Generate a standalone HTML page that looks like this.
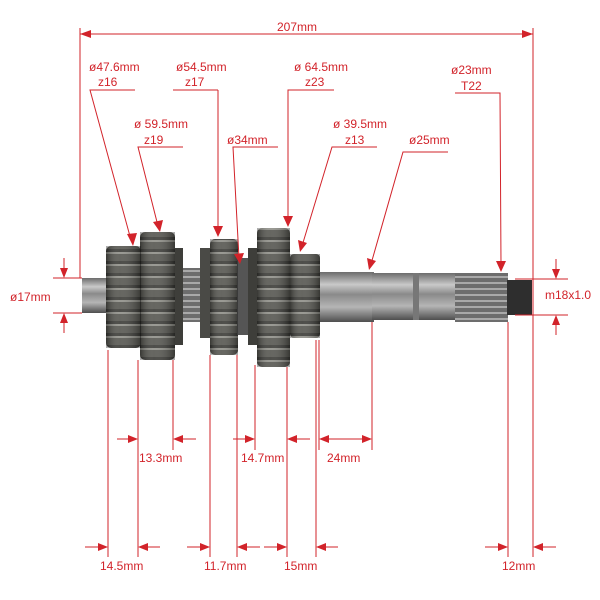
<!DOCTYPE html>
<html><head><meta charset="utf-8"><style>
html,body{margin:0;padding:0;background:#fff;width:600px;height:600px;overflow:hidden}
svg{display:block}
text{font-family:"Liberation Sans",sans-serif;font-size:12px;fill:#d2232a}
</style></head><body>
<svg width="600" height="600" viewBox="0 0 600 600">
<defs>
<linearGradient id="sh" x1="0" y1="0" x2="0" y2="1">
<stop offset="0" stop-color="#6c6c6c"/><stop offset="0.25" stop-color="#c9c9c9"/><stop offset="0.45" stop-color="#8a8a8a"/><stop offset="0.7" stop-color="#b5b5b5"/><stop offset="1" stop-color="#4e4e4e"/>
</linearGradient>
<pattern id="teeth" width="10" height="12" patternUnits="userSpaceOnUse">
<rect width="10" height="12" fill="#55554f"/><rect y="0" width="10" height="2" fill="#8f8f88"/><rect y="9" width="10" height="3" fill="#3a3a36"/>
</pattern>
<pattern id="spl" width="10" height="6" patternUnits="userSpaceOnUse">
<rect width="10" height="6" fill="#6d6d6d"/><rect y="0" width="10" height="2" fill="#a9a9a9"/>
</pattern>
<linearGradient id="gv" x1="0" y1="0" x2="1" y2="0">
<stop offset="0" stop-color="#000" stop-opacity="0.35"/><stop offset="0.4" stop-color="#fff" stop-opacity="0.1"/><stop offset="1" stop-color="#000" stop-opacity="0.35"/>
</linearGradient>
</defs>
<!-- shaft -->
<rect x="82" y="278" width="30" height="35" fill="url(#sh)"/>
<rect x="176" y="268" width="36" height="54" fill="url(#spl)"/>
<rect x="318" y="272" width="56" height="50" fill="url(#sh)"/>
<rect x="372" y="273" width="84" height="47" fill="url(#sh)"/>
<rect x="413" y="273" width="6" height="47" fill="#777"/>
<rect x="455" y="273" width="53" height="49" fill="url(#spl)"/>
<rect x="507" y="280" width="25" height="35" fill="#2e2e2e"/>
<!-- gears -->
<g>
<rect x="106" y="246" width="35" height="102" rx="5" fill="url(#teeth)"/>
<rect x="173" y="248" width="10" height="97" fill="#3e3e3a"/>
<rect x="140" y="232" width="35" height="128" rx="5" fill="url(#teeth)"/>
<rect x="200" y="248" width="11" height="90" fill="#4a4a46"/>
<rect x="210" y="239" width="28" height="116" rx="5" fill="url(#teeth)"/>
<rect x="237" y="258" width="12" height="77" fill="#555"/>
<rect x="248" y="248" width="10" height="97" fill="#3e3e3a"/>
<rect x="257" y="228" width="33" height="139" rx="5" fill="url(#teeth)"/>
<rect x="290" y="254" width="30" height="84" rx="4" fill="url(#teeth)"/>
<rect x="106" y="246" width="35" height="102" fill="url(#gv)"/>
<rect x="140" y="232" width="35" height="128" fill="url(#gv)"/>
<rect x="210" y="239" width="28" height="116" fill="url(#gv)"/>
<rect x="257" y="228" width="33" height="139" fill="url(#gv)"/>
<rect x="290" y="254" width="30" height="84" fill="url(#gv)"/>
</g>
<!-- dimension lines -->
<g stroke="#d2232a" stroke-width="1" fill="none">
<line x1="80" y1="28" x2="80" y2="278"/>
<line x1="533" y1="28" x2="533" y2="557"/>
<line x1="80" y1="34" x2="533" y2="34"/>
<!-- leaders -->
<polyline points="135,90 90,90 131,240"/>
<polyline points="218,90 173,90"/><line x1="218" y1="90" x2="218" y2="230"/>
<polyline points="334,90 288,90 288,220"/>
<polyline points="455,93 500,93 501,265"/>
<polyline points="183,147 138,147 158,226"/>
<polyline points="278,147 233,147 239,258"/>
<polyline points="377,147 332,147 302,246"/>
<polyline points="448,152 403,152 371,264"/>
<!-- left/right -->
<line x1="53" y1="278" x2="82" y2="278"/><line x1="53" y1="313" x2="82" y2="313"/>
<line x1="64" y1="258" x2="64" y2="272"/><line x1="64" y1="319" x2="64" y2="333"/>
<line x1="515" y1="279" x2="568" y2="279"/><line x1="515" y1="315" x2="568" y2="315"/>
<line x1="556" y1="259" x2="556" y2="273"/><line x1="556" y1="321" x2="556" y2="335"/>
<!-- verticals -->
<line x1="108" y1="350" x2="108" y2="557"/>
<line x1="138" y1="360" x2="138" y2="557"/>
<line x1="173" y1="360" x2="173" y2="450"/>
<line x1="210" y1="355" x2="210" y2="557"/>
<line x1="237" y1="355" x2="237" y2="557"/>
<line x1="255" y1="365" x2="255" y2="450"/>
<line x1="287" y1="367" x2="287" y2="557"/>
<line x1="316" y1="340" x2="316" y2="557"/>
<line x1="319" y1="340" x2="319" y2="450"/>
<line x1="372" y1="322" x2="372" y2="450"/>
<line x1="508" y1="322" x2="508" y2="557"/>
<!-- horizontal arrow shafts -->
<line x1="117" y1="439" x2="132" y2="439"/><line x1="179" y1="439" x2="196" y2="439"/>
<line x1="233" y1="439" x2="249" y2="439"/><line x1="293" y1="439" x2="310" y2="439"/>
<line x1="325" y1="439" x2="366" y2="439"/>
<line x1="85" y1="547" x2="102" y2="547"/><line x1="144" y1="547" x2="160" y2="547"/>
<line x1="187" y1="547" x2="204" y2="547"/><line x1="243" y1="547" x2="260" y2="547"/>
<line x1="264" y1="547" x2="281" y2="547"/><line x1="322" y1="547" x2="338" y2="547"/>
<line x1="485" y1="547" x2="502" y2="547"/><line x1="539" y1="547" x2="556" y2="547"/>
</g>
<g fill="#d2232a">
<polygon points="80,34 91,30 91,38"/><polygon points="533,34 522,30 522,38"/>
<polygon points="133,246 127,234 137,233"/>
<polygon points="218,237 213,226 223,226"/>
<polygon points="288,227 283,216 293,216"/>
<polygon points="501,272 496,261 506,261"/>
<polygon points="160,232 153,222 163,220"/>
<polygon points="240,264 234,254 244,253"/>
<polygon points="300,252 298,240 307,243"/>
<polygon points="369,270 367,258 376,261"/>
<polygon points="64,278 60,268 68,268"/><polygon points="64,313 60,323 68,323"/>
<polygon points="556,279 552,269 560,269"/><polygon points="556,315 552,325 560,325"/>
<polygon points="138,439 128,435 128,443"/><polygon points="173,439 183,435 183,443"/>
<polygon points="255,439 245,435 245,443"/><polygon points="287,439 297,435 297,443"/>
<polygon points="319,439 329,435 329,443"/><polygon points="372,439 362,435 362,443"/>
<polygon points="108,547 98,543 98,551"/><polygon points="138,547 148,543 148,551"/>
<polygon points="210,547 200,543 200,551"/><polygon points="237,547 247,543 247,551"/>
<polygon points="287,547 277,543 277,551"/><polygon points="316,547 326,543 326,551"/>
<polygon points="508,547 498,543 498,551"/><polygon points="533,547 543,543 543,551"/>
</g>
<g>
<text x="277" y="31">207mm</text>
<text x="89" y="71">ø47.6mm</text><text x="98" y="86">z16</text>
<text x="176" y="71">ø54.5mm</text><text x="185" y="86">z17</text>
<text x="294" y="71">ø 64.5mm</text><text x="305" y="86">z23</text>
<text x="451" y="74">ø23mm</text><text x="461" y="90">T22</text>
<text x="134" y="128">ø 59.5mm</text><text x="144" y="144">z19</text>
<text x="227" y="144">ø34mm</text>
<text x="333" y="128">ø 39.5mm</text><text x="345" y="144">z13</text>
<text x="409" y="144">ø25mm</text>
<text x="10" y="301">ø17mm</text>
<text x="545" y="299">m18x1.0</text>
<text x="139" y="462">13.3mm</text>
<text x="241" y="462">14.7mm</text>
<text x="327" y="462">24mm</text>
<text x="100" y="570">14.5mm</text>
<text x="204" y="570">11.7mm</text>
<text x="284" y="570">15mm</text>
<text x="502" y="570">12mm</text>
</g>
</svg>
</body></html>
